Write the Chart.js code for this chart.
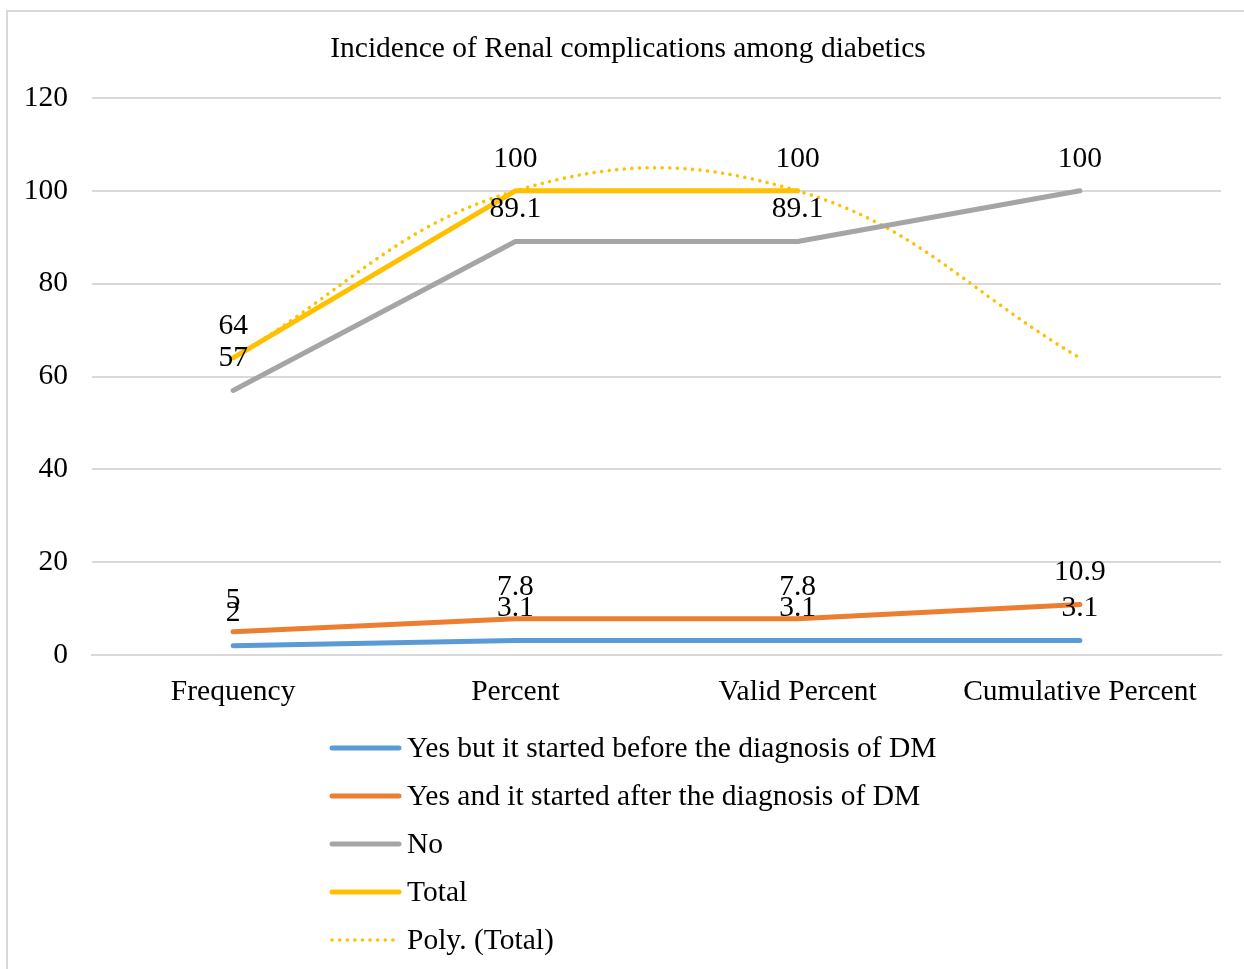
<!DOCTYPE html>
<html>
<head>
<meta charset="utf-8">
<script src="https://cdn.jsdelivr.net/npm/chart.js@4"></script>
<style>
  html, body { margin: 0; padding: 0; background: #fff; }
  #wrap { position: relative; width: 1244px; height: 969px; overflow: hidden; }
  #frame { position: absolute; left: 6px; top: 10px; width: 1300px; height: 1000px; border: 2px solid #d9d9d9; box-sizing: border-box; }
  canvas { position: absolute; left: 0; top: 0; }
</style>
</head>
<body>
<div id="wrap">
  <div id="frame"></div>
  <canvas id="c" width="1244" height="969"></canvas>
</div>
<script>
const chartTitle = "Incidence of Renal complications among diabetics";
const categories = ["Frequency", "Percent", "Valid Percent", "Cumulative Percent"];
const yesBefore = [2, 3.1, 3.1, 3.1];
const yesAfter = [5, 7.8, 7.8, 10.9];
const noValues = [57, 89.1, 89.1, 100];
const totalValues = [64, 100, 100, null];
const polyTotal = [64, 100, 100, 64];
const yTicks = [0, 20, 40, 60, 80, 100, 120];
const seriesNames = ["Yes but it started before the diagnosis of DM", "Yes and it started after the diagnosis of DM", "No", "Total", "Poly. (Total)"];

const FONT = "'Liberation Serif', 'Times New Roman', serif";
const FS = 29.5;

const titlePlugin = {
  id: 'frameTitle',
  afterDraw(chart) {
    const ctx = chart.ctx;
    ctx.save();
    ctx.font = FS + 'px ' + FONT;
    ctx.fillStyle = '#000';
    ctx.textAlign = 'center';
    ctx.textBaseline = 'middle';
    ctx.fillText(chartTitle, 628, 49);
    ctx.restore();
  }
};

const labelPlugin = {
  id: 'pointLabels',
  afterDatasetsDraw(chart) {
    const ctx = chart.ctx;
    ctx.save();
    ctx.font = FS + 'px ' + FONT;
    ctx.fillStyle = '#000';
    ctx.textAlign = 'center';
    ctx.textBaseline = 'middle';
    chart.data.datasets.forEach((ds, i) => {
      if (ds.noLabels) return;
      const meta = chart.getDatasetMeta(i);
      meta.data.forEach((pt, j) => {
        const v = ds.data[j];
        if (v === null || v === undefined) return;
        ctx.fillText(String(v), pt.x, pt.y - 32);
      });
    });
    ctx.restore();
  }
};

const legendPlugin = {
  id: 'vertLegend',
  afterDraw(chart) {
    const ctx = chart.ctx;
    ctx.save();
    ctx.font = FS + 'px ' + FONT;
    ctx.textBaseline = 'middle';
    ctx.textAlign = 'left';
    chart.data.datasets.forEach((ds, i) => {
      const y = 748 + i * 48;
      ctx.beginPath();
      ctx.strokeStyle = ds.borderColor;
      ctx.lineWidth = ds.borderWidth;
      ctx.lineCap = 'round';
      ctx.setLineDash(ds.borderDash || []);
      ctx.moveTo(332, y);
      ctx.lineTo(399, y);
      ctx.stroke();
      ctx.setLineDash([]);
      ctx.fillStyle = '#000';
      ctx.fillText(ds.label, 407, y + 1);
    });
    ctx.restore();
  }
};

new Chart(document.getElementById('c'), {
  type: 'line',
  data: {
    labels: categories,
    datasets: [
      { label: seriesNames[0], data: yesBefore, borderColor: '#5B9BD5', borderWidth: 5 },
      { label: seriesNames[1], data: yesAfter, borderColor: '#ED7D31', borderWidth: 5 },
      { label: seriesNames[2], data: noValues, borderColor: '#A5A5A5', borderWidth: 5 },
      { label: seriesNames[3], data: totalValues, borderColor: '#FFC000', borderWidth: 5 },
      { label: seriesNames[4], data: polyTotal, borderColor: '#FFC000', borderWidth: 3.5, borderDash: [0.1, 7.5], tension: 0.4, noLabels: true, borderCapStyle: 'round' }
    ]
  },
  options: {
    responsive: false,
    animation: false,
    devicePixelRatio: 1,
    layout: { padding: { left: 0, right: 23, top: 98, bottom: 240 } },
    elements: {
      point: { radius: 0, hoverRadius: 0 },
      line: { tension: 0, borderCapStyle: 'round', borderJoinStyle: 'round', fill: false }
    },
    plugins: {
      legend: { display: false },
      tooltip: { enabled: false },
      title: { display: false }
    },
    scales: {
      x: {
        offset: true,
        grid: { display: false, drawTicks: false },
        border: { display: true, color: '#d9d9d9', width: 2 },
        ticks: { color: '#000', font: { family: FONT, size: FS }, padding: 20, maxRotation: 0, autoSkip: false },
        afterFit(scale) { scale.height = 74; }
      },
      y: {
        min: 0, max: 120,
        afterBuildTicks(scale) { scale.ticks = yTicks.map(v => ({ value: v })); },
        grid: { color: '#d9d9d9', lineWidth: 2, drawTicks: false },
        border: { display: false },
        ticks: { color: '#000', font: { family: FONT, size: FS }, padding: 24 },
        afterFit(scale) { scale.width = 92; }
      }
    }
  },
  plugins: [labelPlugin, legendPlugin, titlePlugin]
});
</script>
</body>
</html>
